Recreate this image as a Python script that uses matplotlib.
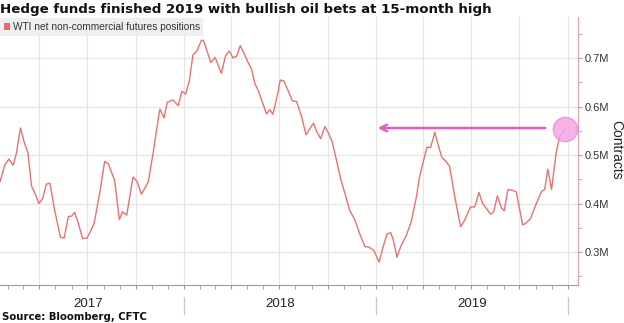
import pandas as pd
import matplotlib
matplotlib.use("Agg")
import matplotlib.pyplot as plt
import matplotlib.dates as mdates
import matplotlib.transforms as mtrans
from matplotlib.patches import Patch
from matplotlib.ticker import MultipleLocator, FuncFormatter

title = "Hedge funds finished 2019 with bullish oil bets at 15-month high"
series_name = "WTI net non-commercial futures positions"
source = "Source: Bloomberg, CFTC"
y_label = "Contracts"
years = ["2017", "2018", "2019"]

# weekly positions, millions of contracts
dates = [
    "2017-01-16", "2017-01-25", "2017-02-02", "2017-02-10", "2017-02-16", "2017-02-24",
    "2017-03-04", "2017-03-10", "2017-03-17", "2017-03-25", "2017-03-31", "2017-04-07",
    "2017-04-14", "2017-04-21", "2017-04-30", "2017-05-11", "2017-05-18", "2017-05-26",
    "2017-06-01", "2017-06-07", "2017-06-14", "2017-06-22", "2017-06-30", "2017-07-07",
    "2017-07-14", "2017-07-25", "2017-08-03", "2017-08-10", "2017-08-22", "2017-08-31",
    "2017-09-06", "2017-09-14", "2017-09-26", "2017-10-04", "2017-10-12", "2017-10-25",
    "2017-11-03", "2017-11-16", "2017-11-24", "2017-11-30", "2017-12-11", "2017-12-21",
    "2017-12-28",
    "2018-01-04", "2018-01-11", "2018-01-18", "2018-01-26", "2018-02-03", "2018-02-07",
    "2018-02-21", "2018-03-01", "2018-03-13", "2018-03-21", "2018-03-28", "2018-04-04",
    "2018-04-11", "2018-04-18", "2018-04-26", "2018-05-03", "2018-05-09", "2018-05-16",
    "2018-05-22", "2018-05-30", "2018-06-07", "2018-06-13", "2018-06-19", "2018-06-28",
    "2018-07-03", "2018-07-10", "2018-07-18", "2018-07-26", "2018-08-03", "2018-08-13",
    "2018-08-21", "2018-09-04", "2018-09-11", "2018-09-18", "2018-09-26", "2018-10-02",
    "2018-10-10", "2018-10-18", "2018-10-26", "2018-11-03", "2018-11-12", "2018-11-22",
    "2018-12-01", "2018-12-11", "2018-12-19", "2018-12-28",
    "2019-01-07", "2019-01-14", "2019-01-22", "2019-01-29", "2019-02-03", "2019-02-10",
    "2019-02-17", "2019-02-27", "2019-03-09", "2019-03-19", "2019-03-25", "2019-04-01",
    "2019-04-08", "2019-04-15", "2019-04-23", "2019-04-29", "2019-05-06", "2019-05-14",
    "2019-05-21", "2019-05-31", "2019-06-11", "2019-06-19", "2019-06-30", "2019-07-08",
    "2019-07-16", "2019-07-23", "2019-07-30", "2019-08-07", "2019-08-13", "2019-08-20",
    "2019-08-28", "2019-09-02", "2019-09-09", "2019-09-18", "2019-09-25", "2019-10-07",
    "2019-10-13", "2019-10-22", "2019-11-02", "2019-11-12", "2019-11-18", "2019-11-24",
    "2019-12-01", "2019-12-10", "2019-12-16", "2019-12-27",
]
values = [
    0.445, 0.479, 0.492, 0.479, 0.503, 0.556, 0.523, 0.506, 0.436, 0.417, 0.400, 0.410,
    0.440, 0.442, 0.386, 0.330, 0.329, 0.373, 0.374, 0.382, 0.359, 0.328, 0.328, 0.342,
    0.359, 0.424, 0.487, 0.482, 0.448, 0.367, 0.383, 0.376, 0.455, 0.445, 0.419, 0.445,
    0.503, 0.595, 0.577, 0.609, 0.614, 0.602, 0.632,
    0.626, 0.653, 0.707, 0.716, 0.737, 0.737, 0.691, 0.702, 0.669, 0.705, 0.715, 0.701,
    0.704, 0.726, 0.708, 0.691, 0.679, 0.647, 0.634, 0.609, 0.585, 0.594, 0.584, 0.626,
    0.655, 0.653, 0.633, 0.612, 0.611, 0.578, 0.542, 0.566, 0.547, 0.534, 0.559, 0.547,
    0.527, 0.489, 0.451, 0.421, 0.386, 0.366, 0.338, 0.311, 0.310, 0.303,
    0.279, 0.308, 0.337, 0.340, 0.325, 0.289, 0.311, 0.332, 0.362, 0.414, 0.455, 0.486,
    0.516, 0.516, 0.547, 0.523, 0.496, 0.487, 0.477, 0.414, 0.352, 0.366, 0.393, 0.393,
    0.423, 0.400, 0.390, 0.378, 0.383, 0.416, 0.390, 0.385, 0.429, 0.427, 0.424, 0.356,
    0.359, 0.369, 0.400, 0.425, 0.429, 0.471, 0.429, 0.506, 0.537, 0.553,
]

# annotation: arrow back to the level seen ~a year earlier
arrow_from = "2019-11-24"
arrow_to = "2018-12-30"

x = pd.to_datetime(dates)
line_color = "#e57373"
pink = "#e060c0"
narrow = ["Liberation Sans Narrow", "Liberation Sans", "DejaVu Sans"]

fig = plt.figure(figsize=(6.24, 3.23), dpi=100)
ax = fig.add_axes([0.0, 0.118, 0.926, 0.829])

ax.plot(x, values, color=line_color, lw=1.0, zorder=3)

ax.set_xlim(pd.Timestamp("2017-01-16"), pd.Timestamp("2020-01-20"))
ax.set_ylim(0.232, 0.785)

# axes / ticks
for s in ["top", "left"]:
    ax.spines[s].set_visible(False)
ax.spines["bottom"].set_color("#999999")
ax.spines["right"].set_color("#e0a0a8")
ax.yaxis.tick_right()
ax.yaxis.set_major_locator(MultipleLocator(0.1))
ax.yaxis.set_minor_locator(MultipleLocator(0.05))
ax.yaxis.set_major_formatter(FuncFormatter(lambda v, p: f"{v:.1f}M"))
ax.tick_params(axis="y", which="both", direction="out", length=3, color="#aaaaaa",
               labelsize=8, labelcolor="#333333", pad=2)
for lab in ax.get_yticklabels():
    lab.set_family(narrow)

ax.xaxis.set_major_locator(mdates.MonthLocator(bymonth=[1, 4, 7, 10]))
ax.xaxis.set_minor_locator(mdates.MonthLocator())
ax.xaxis.set_major_formatter(plt.NullFormatter())
ax.tick_params(axis="x", which="both", direction="out", length=3, color="#999999")

ax.grid(True, which="major", color="#e6e6e6", lw=0.9, zorder=0)

# year separators and labels under the axis
trans = mtrans.blended_transform_factory(ax.transData, ax.transAxes)
for yr in years:
    start = pd.Timestamp(f"{yr}-01-01")
    nxt = pd.Timestamp(f"{int(yr) + 1}-01-01")
    mid = start + (nxt - start) / 2
    ax.text(mid, -0.07, yr, transform=trans, ha="center", va="center",
            fontsize=9.5, color="#222222", family=narrow)
    ax.plot([nxt, nxt], [-0.045, -0.11], transform=trans, color="#cccccc",
            lw=1, clip_on=False)

fig.text(0.987, 0.535, y_label, rotation=270, fontsize=10, color="#222222",
         family=narrow, ha="center", va="center")

# legend
leg = ax.legend(handles=[Patch(facecolor="#e86a6a", edgecolor="none")],
                labels=[series_name], loc="upper left", bbox_to_anchor=(0.0, 0.995),
                frameon=True, fancybox=False, borderaxespad=0, handlelength=0.6,
                handleheight=0.6, handletextpad=0.3, borderpad=0.35,
                prop={"family": narrow, "size": 7.3})
leg.get_frame().set_facecolor("#efefef")
leg.get_frame().set_edgecolor("none")
leg.get_frame().set_alpha(1)
for t in leg.get_texts():
    t.set_color("#333333")

# highlight last value and arrow
last_x, last_v = x[-1], values[-1]
ax.plot([last_x], [last_v], marker="o", markersize=17.5, color="#f4a6e4",
        markeredgecolor="#e890d8", alpha=0.85, zorder=4)
ax.annotate("", xy=(pd.Timestamp(arrow_to), last_v + 0.003),
            xytext=(pd.Timestamp(arrow_from), last_v + 0.003),
            arrowprops=dict(arrowstyle="->", color=pink, lw=1.8,
                            mutation_scale=12), zorder=5)

fig.text(0.0, 0.972, title, fontsize=9.6, fontweight="bold", color="#111111",
         ha="left", va="center")
fig.text(0.003, 0.004, source, fontsize=7.3, fontweight="bold", color="#111111",
         ha="left", va="bottom")

fig.savefig("out.png", dpi=100)
